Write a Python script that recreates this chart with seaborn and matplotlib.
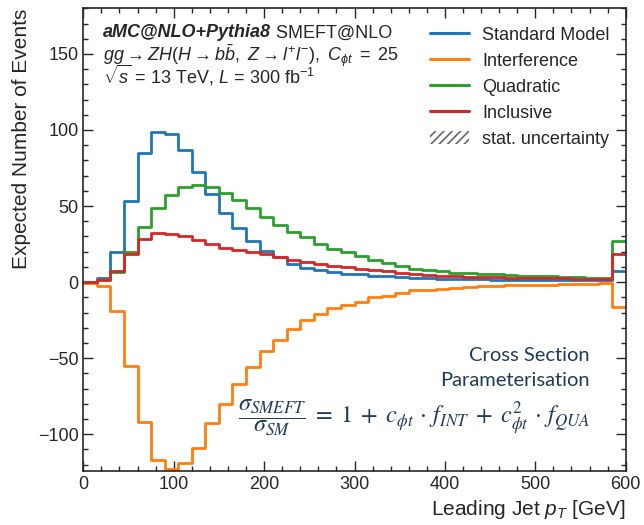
import numpy as np
import pandas as pd
import seaborn as sns
import matplotlib.pyplot as plt
from matplotlib.lines import Line2D
from matplotlib.patches import Patch
from matplotlib.ticker import MultipleLocator

# Expected events per 15 GeV bin of leading jet pT (last bin = overflow)
bin_edges = list(range(0, 601, 15))

standard_model = [0.2, 2.6, 20.1, 53.0, 85.0, 98.4, 97.6, 86.6, 72.6, 57.6,
                  45.4, 35.5, 26.7, 20.6, 16.5, 12.0, 9.2, 8.0, 6.6, 5.6,
                  5.0, 4.2, 3.9, 3.3, 2.9, 2.4, 2.2, 2.0, 1.9, 1.8,
                  1.7, 1.6, 1.5, 1.4, 1.4, 1.3, 1.3, 1.2, 1.2, 7.4]
interference = [-0.3, -2.4, -19.3, -55.0, -92.0, -117.0, -123.0, -118.7, -108.8, -92.4,
                -80.0, -66.7, -55.5, -45.2, -38.2, -30.9, -24.8, -20.9, -17.1, -14.9,
                -12.8, -9.9, -9.0, -7.3, -5.5, -4.9, -4.6, -4.2, -3.3, -2.6,
                -2.4, -2.2, -1.9, -1.8, -1.6, -1.3, -1.1, -1.0, -0.9, -16.6]
quadratic = [0.0, 1.3, 6.6, 19.5, 36.0, 48.7, 57.4, 62.5, 64.0, 62.2,
             58.5, 53.7, 48.7, 42.6, 37.5, 32.7, 29.4, 25.0, 21.7, 19.5,
             16.9, 14.2, 12.5, 10.7, 8.5, 7.7, 7.0, 6.3, 5.8, 5.3,
             5.1, 4.4, 4.1, 3.9, 3.7, 3.5, 3.3, 3.0, 2.8, 26.7]
inclusive = [0.0, 1.5, 7.4, 18.6, 28.3, 32.6, 31.8, 30.0, 27.4, 25.0,
             22.4, 20.8, 19.5, 18.4, 16.3, 14.2, 12.9, 12.0, 10.7, 9.9,
             8.8, 8.1, 7.0, 6.3, 5.5, 4.8, 4.3, 4.1, 3.6, 3.3,
             3.1, 2.9, 2.8, 2.6, 2.5, 2.4, 2.2, 2.1, 2.0, 18.2]

names = ['Standard Model', 'Interference', 'Quadratic', 'Inclusive']
colors = ['#1f77b4', '#ff7f0e', '#2ca02c', '#d62728']
series = [standard_model, interference, quadratic, inclusive]

edges = np.array(bin_edges)
centers = (edges[:-1] + edges[1:]) / 2
df = pd.DataFrame({
    'pt': np.tile(centers, len(names)),
    'events': np.concatenate(series),
    'sample': np.repeat(names, len(centers)),
})

sns.set_style("ticks")
plt.rcParams['font.family'] = ['Liberation Sans', 'DejaVu Sans']
plt.rcParams['mathtext.fontset'] = 'custom'
plt.rcParams['mathtext.rm'] = 'Liberation Sans'
plt.rcParams['mathtext.it'] = 'Liberation Sans:italic'
plt.rcParams['mathtext.bf'] = 'Liberation Sans:bold'
plt.rcParams['hatch.linewidth'] = 1.2

fig = plt.figure(figsize=(6.44, 5.25), dpi=100)
ax = fig.add_axes([0.1294, 0.1034, 0.8422, 0.8808])

for name, col in zip(names, colors):
    sns.histplot(data=df[df['sample'] == name], x='pt', weights='events',
                 bins=bin_edges, element='step', fill=False, color=col,
                 linewidth=2.0, ax=ax)

ax.set_xlim(0, 600)
ax.set_ylim(-124, 180)
ax.xaxis.set_major_locator(MultipleLocator(100))
ax.xaxis.set_minor_locator(MultipleLocator(20))
ax.yaxis.set_major_locator(MultipleLocator(50))
ax.yaxis.set_minor_locator(MultipleLocator(10))
ax.tick_params(which='both', direction='in', top=True, right=True, labelsize=13)
ax.tick_params(which='major', length=7, width=1)
ax.tick_params(which='minor', length=3.5, width=1)
for s in ax.spines.values():
    s.set_linewidth(1.2)

ax.set_xlabel(r'Leading Jet $p_T$ [GeV]', fontsize=15, loc='right')
ax.set_ylabel('Expected Number of Events', fontsize=15, loc='top')
ax.yaxis.set_label_coords(-0.097, 1.0)

# process info
t1 = ax.text(0.036, 0.937, 'aMC@NLO+Pythia8', transform=ax.transAxes,
             fontsize=13, fontweight='bold', fontstyle='italic', va='baseline')
ax.annotate(' SMEFT@NLO', xy=(1, 0), xycoords=t1, va='bottom', fontsize=13)
process_lines = (
    r'$gg \rightarrow ZH(H \rightarrow b\bar{b},\ Z \rightarrow l^{+}l^{-}),\ C_{\phi t}\ =\ 25$'
    '\n'
    r'$\sqrt{s}$ = 13 TeV, $L$ = 300 fb$^{-1}$'
)
ax.text(0.036, 0.838, process_lines, transform=ax.transAxes, fontsize=13,
        va='baseline', linespacing=0.68)

handles = [Line2D([], [], color=c, lw=2.2, label=n) for n, c in zip(names, colors)]
handles.append(Patch(facecolor='none', edgecolor='0.4', hatch='////', lw=0,
                     label='stat. uncertainty'))
ax.legend(handles=handles, loc='upper right', bbox_to_anchor=(0.984, 0.976),
          borderaxespad=0, frameon=False, fontsize=13, handlelength=2.15,
          handletextpad=0.72, labelspacing=0.5)

navy = '#1f3b5a'
ax.text(0.934, 0.250, 'Cross Section', transform=ax.transAxes, ha='right',
        va='center', fontsize=14.5, color=navy, family='Lato')
ax.text(0.934, 0.196, 'Parameterisation', transform=ax.transAxes, ha='right',
        va='center', fontsize=14.5, color=navy, family='Lato')
ax.text(0.934, 0.114,
        r'$\dfrac{\sigma_{SMEFT}}{\sigma_{SM}}\;=\;1\;+\;c_{\phi t}\,\cdot\,f_{INT}\;+\;c^{2}_{\phi t}\,\cdot\,f_{QUA}$',
        transform=ax.transAxes, ha='right', va='center', fontsize=17.5,
        color=navy, math_fontfamily='stix')

fig.savefig('out.png', dpi=100)
